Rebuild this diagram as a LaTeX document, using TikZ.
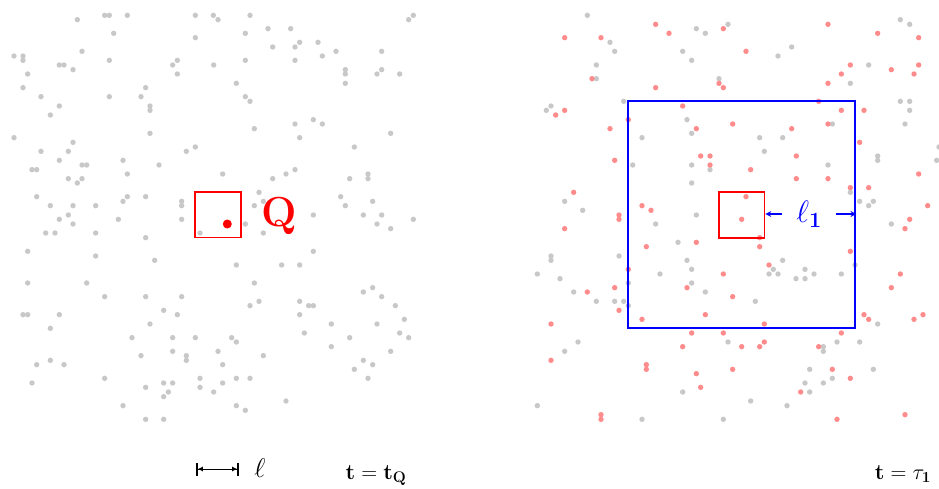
\RequirePackage{fix-cm}
\documentclass[tikz,border=0pt]{standalone}
\usepackage{amsmath,bm}
\usetikzlibrary{arrows.meta}
\definecolor{dotgray}{RGB}{200,200,200}
\definecolor{dotpink}{RGB}{255,140,140}
\begin{document}
\begin{tikzpicture}[x=1pt,y=-1pt,
  gdot/.style={fill=dotgray},
  pdot/.style={fill=dotpink},
  redbox/.style={draw=red, line width=1.7pt, inner sep=0pt, minimum size=45.5pt},
  bluebox/.style={draw=blue, line width=2.3pt, inner sep=0pt, minimum size=227pt},
  blarrow/.style={blue, line width=1.4pt, -{Stealth[length=6pt,width=6pt]}},
  bigfont/.style={font=\fontsize{22}{22}\selectfont}]
\useasboundingbox (0,0) rectangle (939,489);
% left panel gray dots (coordinates in 3x zoom units)
\foreach \a/\b in {314/46,328/46,382/46,586/46,640/46,750/46,1240/46,232/59,654/59,1226/59,804/86,872/86,341/100,736/100,586/113,899/127,954/127,818/141,885/141,246/154,1008/154,1145/154,42/168,69/168,967/168,69/181,328/181,532/181,736/181,885/181,178/195,192/195,518/195,641/195,219/209,1036/209,1145/209,83/222,532/222,1036/222,1131/222,1199/222,709/250,1036/250,69/263,437/263,123/290,328/290,423/290,736/290,750/304,178/318,450/318,450/331,151/345,940/359,885/372,967/372,763/386,450/400,1172/400,42/413,899/413,219/427,586/441,1063/441,123/454,205/454,559/454,178/481,369/481,246/495,260/495,477/495,96/509,110/509,885/509,382/522,668/522,858/522,1104/522,205/536,246/536,818/536,1049/536,1104/536,232/549,777/577,110/590,382/590,437/590,1022/590,369/604,545/604,1118/604,790/604,151/617,219/617,287/617,545/617,763/617,1036/617,205/645,940/645,1090/645,1145/645,178/658,355/658,545/658,1240/658,219/672,736/672,1131/672,1172/686,137/699,165/699,287/699,600/699,790/699,437/713,83/754,940/754,287/768,464/781,709/795,845/795,899/795,83/849,260/849,763/849,1118/863,1090/876,314/890,437/890,545/890,1145/890,777/904,899/904,750/917,926/917,940/917,1186/917,491/931,69/944,83/944,178/944,532/944,899/944,1213/958,450/972,994/972,1131/972,151/985,913/999,1199/999,396/1013,518/1013,586/1013,695/1013,1049/1013,1226/1013,709/1026,994/1040,518/1054,654/1054,1172/1054,423/1067,559/1067,790/1067,151/1081,559/1081,1090/1081,110/1094,192/1094,668/1094,1118/1094,1063/1108,314/1135,600/1135,709/1135,750/1135,1104/1135,96/1149,491/1149,518/1149,668/1149,437/1162,600/1162,505/1176,641/1176,491/1190,858/1203,369/1217,709/1217,736/1231,437/1258,491/1258}
  \fill[gdot] (\a/3,\b/3) circle[radius=2.7pt];
% right panel gray dots
\foreach \a/\b in {352/46,1291/59,679/86,774/73,1319/73,706/100,420/127,434/154,638/154,965/141,924/168,665/181,379/195,1196/195,379/236,747/236,1141/250,461/304,1291/304,1319/304,243/318,229/331,1319/331,651/359,1087/372,1305/372,665/400,516/413,869/413,938/413,883/454,1223/468,1223/481,488/495,665/495,1074/495,1400/481,720/509,665/549,1141/577,284/604,1169/604,1210/604,1196/617,338/631,679/645,557/672,1264/672,624/727,243/768,447/768,243/781,651/781,938/781,1155/795,665/808,910/808,1005/808,202/822,570/822,897/822,924/822,1032/822,1114/822,270/836,978/836,1005/836,475/849,665/849,311/876,706/876,379/904,434/904,461/904,856/904,475/917,1223/972,324/1026,774/1026,1101/1026,1169/1026,1060/1040,284/1054,1060/1054,1019/1108,1210/1108,1087/1135,1005/1149,1060/1149,638/1176,1019/1176,842/1203,202/1217,951/1217,516/1258,760/1258,1407/441}
  \fill[gdot] (470+\a/3,\b/3) circle[radius=2.7pt];
% right panel pink dots
\foreach \a/\b in {557/73,1074/73,760/86,597/100,1223/100,284/113,393/113,1346/113,828/154,1141/195,1346/195,1264/209,1114/222,1332/222,366/236,747/250,1074/250,557/263,760/263,1046/304,638/318,284/331,1114/331,1182/331,257/345,475/359,788/372,1074/372,420/386,679/386,965/386,1169/427,692/468,720/468,979/468,434/481,720/495,842/509,1346/522,979/536,1074/536,1141/563,1196/563,311/577,828/590,516/617,1373/617,543/631,447/645,447/658,815/658,1319/658,284/686,1305/686,869/713,679/727,529/740,869/740,1141/754,897/795,475/808,760/822,1291/822,434/863,651/863,1264/863,352/876,788/890,447/931,706/944,1182/944,516/958,1196/958,1332/958,1359/944,243/972,883/972,665/999,760/999,1114/999,883/1026,638/1040,815/1040,869/1040,1046/1040,243/1081,529/1094,529/1108,788/1108,1087/1108,679/1121,1141/1135,692/1162,992/1176,393/1244,1305/1244,393/1258,1101/1258}
  \fill[pdot] (470+\a/3,\b/3) circle[radius=2.7pt];
% left panel
\node[redbox] (qbox) at (218,214.8) {};
\fill[red] (227.3,224) circle[radius=4.5pt];
\node[red, anchor=base, font=\fontsize{42}{42}\selectfont\bfseries] (Q) at (279,226) {Q};
% right panel
\node[bluebox] (big) at (741.8,214.8) {};
\node[redbox] (rbox) at (741.7,215) {};
\node[blue, inner sep=0pt, minimum width=53pt, minimum height=24pt, font=\fontsize{31}{31}\selectfont] (l1) at (809,214) {$\ell_{\mathbf{1}}$};
\draw[blarrow] (l1.west) -- (l1.west -| rbox.east);
\draw[blarrow] (l1.east) -- (l1.east -| big.east);
% bottom labels
\coordinate (sa) at (196,469);
\coordinate (sb) at (239,469);
\draw[line width=1pt, {Bar[width=13pt,line width=1.8pt]Latex[length=5pt,width=5pt]}-{Latex[length=5pt,width=5pt]Bar[width=13pt,line width=1.8pt]}] (sa) -- (sb);
\node[anchor=base, font=\fontsize{27}{27}\selectfont] (ell) at (260,477) {$\ell$};
\node[bigfont, anchor=base] (tq) at (376,479) {$\mathbf{t}=\mathbf{t}_{\mathbf{Q}}$};
\node[bigfont, anchor=base] (tt) at (903,479) {$\mathbf{t}=\tau_{\mathbf{1}}$};
\end{tikzpicture}
\end{document}
